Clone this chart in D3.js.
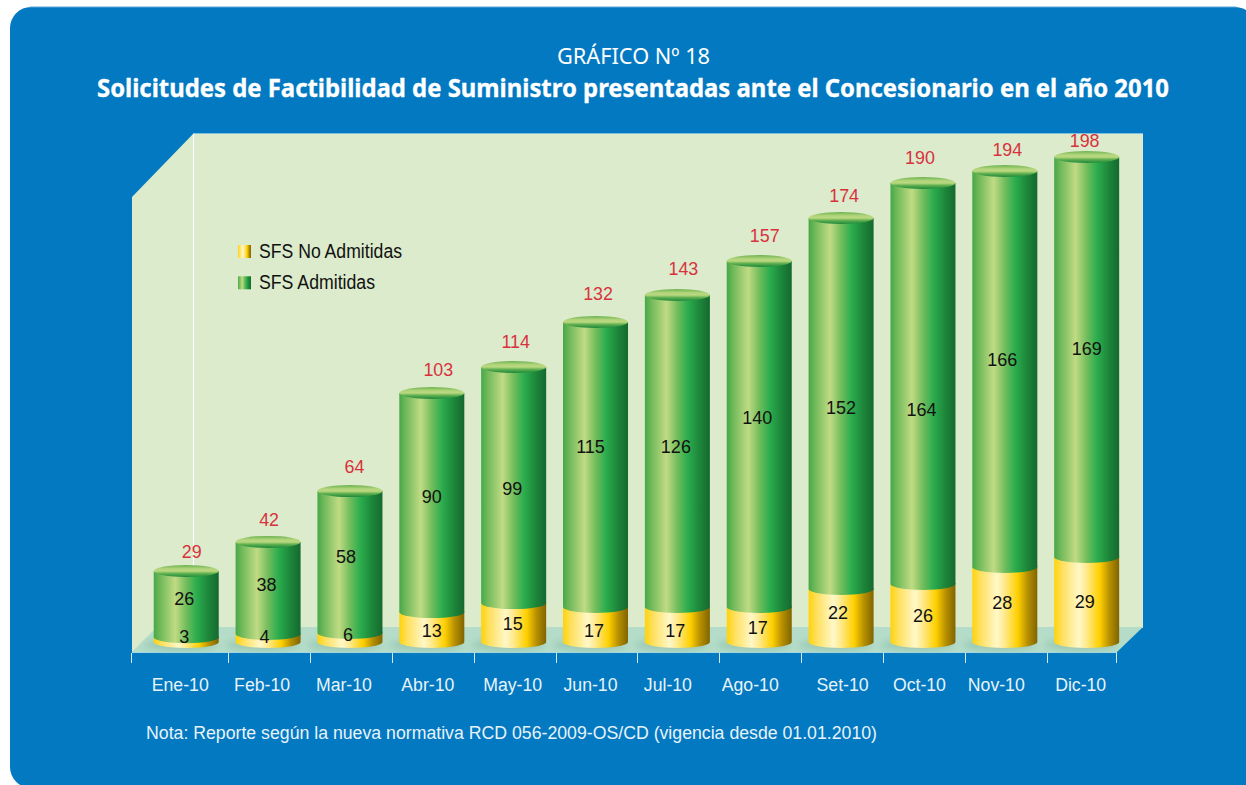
<!DOCTYPE html>
<html>
<head>
<meta charset="utf-8">
<script src="https://cdn.jsdelivr.net/npm/d3@7"></script>
<style>
html,body{margin:0;padding:0;background:#fff;overflow:hidden}
svg{display:block}
</style>
</head>
<body>
<svg id="c" width="1246" height="785"></svg>
<script>
// ---- data ----
const months = ["Ene-10","Feb-10","Mar-10","Abr-10","May-10","Jun-10","Jul-10","Ago-10","Set-10","Oct-10","Nov-10","Dic-10"];
const noAdmitidas = [3,4,6,13,15,17,17,17,22,26,28,29];
const admitidas = [26,38,58,90,99,115,126,140,152,164,166,169];
const totales = [29,42,64,103,114,132,143,157,174,190,194,198];
// heights as actually drawn in the picture (they differ slightly from the printed labels)
const alturaNoAdm = [2,3.3,3.7,12.3,16,14.4,14.4,14.4,21.8,23.9,30.9,35];
const alturaTotal = [29.2,41.2,62.1,102.5,113.2,131.7,142.8,156.8,174.5,188.9,193.8,199.6];
const series = ["SFS No Admitidas","SFS Admitidas"];
const titulo1 = "GRÁFICO Nº 18";
const titulo2 = "Solicitudes de Factibilidad de Suministro presentadas ante el Concesionario en el año 2010";
const nota = "Nota: Reporte según la nueva normativa RCD 056-2009-OS/CD (vigencia desde 01.01.2010)";

// ---- hand-placed label offsets (layout, px) ----
const totalDx = [5.5,1,4.5,6.5,2,2.5,6,5.5,3,-3,2.5,-2];
const totalDy = [-20,-22,-25,-23,-25,-28,-27,-25,-22,-25,-22,-16];
const admDx = [-2,-1.5,-4,0,-1.5,-5,-1.5,-2,0,-1.5,-2.5,0];
const admDy = [-6,-4,-6,-6.5,3,-18.5,-5,-17,3.5,25.5,-10,-9];
const noDx = [-2,-3.5,-2,0,-1,-1.5,-2,-1.5,-3,0,-2.5,-2];
const noDy = [-3.5,-2,-3.5,3,0.5,5.5,5.5,2.5,-3.5,2,-2.5,1.5];
const tickDx = [-6,-6,-6,-4,-1,-5,-9.5,-9,1.5,-3.5,-8.5,-6];

const svg = d3.select("#c");
const font = "'Liberation Sans',Arial,sans-serif";
const titleFont = "'Noto Sans','Open Sans',sans-serif";
const W = 65, RX = W/2, RY = 6;

const x = d3.scaleBand().domain(months).range([145.3,1127.6]).paddingInner(0.206).paddingOuter(0.103);
const y = d3.scaleLinear().domain([0,200]).range([642,156]);

// horizontally condense text the way the original artwork does
function squeeze(sel, ratio){
  sel.each(function(){
    const n = this.getComputedTextLength();
    d3.select(this).attr("textLength",n*ratio).attr("lengthAdjust","spacingAndGlyphs");
  });
}

// ---- gradients ----
const defs = svg.append("defs");
function grad(id, stops, vertical){
  const g = defs.append("linearGradient").attr("id",id).attr("x1",0).attr("y1",0)
    .attr("x2",vertical?0:1).attr("y2",vertical?1:0);
  stops.forEach(s=>g.append("stop").attr("offset",s[0]).attr("stop-color",s[1]));
}
grad("gGreen",[[0,"#45a848"],[0.1,"#71b95a"],[0.33,"#c0db84"],[0.5,"#72bd5c"],[0.66,"#2bad4e"],[0.85,"#1c8439"],[1,"#15692f"]]);
grad("gYellow",[[0,"#ffd308"],[0.12,"#ffdf5c"],[0.38,"#fff8c8"],[0.5,"#ffe98a"],[0.7,"#ffd000"],[0.85,"#b79000"],[1,"#806400"]]);
grad("gTop",[[0,"#6ab24e"],[0.3,"#afd37a"],[0.5,"#bcd980"],[0.72,"#5cae4e"],[1,"#1c873c"]],true);
defs.append("filter").attr("id","blur").attr("x","-30%").attr("y","-60%").attr("width","160%").attr("height","220%")
  .append("feGaussianBlur").attr("stdDeviation",3);

// ---- panel ----
svg.append("rect").attr("x",10).attr("y",7).attr("width",1246).attr("height",781).attr("rx",21).attr("fill","#0279c1");
svg.append("line").attr("x1",30).attr("x2",1236).attr("y1",7).attr("y2",7).attr("stroke","#5aa8d8").attr("stroke-width",1);

// ---- 3D box ----
const line = d3.line();
svg.append("path").attr("d",line([[132,197],[193,134],[1143,134],[1143,628],[132,652]])+"Z").attr("fill","#dbebcb");
svg.append("path").attr("d",line([[132,652],[157,627],[1143,627],[1117,652]])+"Z").attr("fill","#b4dcc9");
svg.append("line").attr("x1",193.5).attr("x2",193.5).attr("y1",134).attr("y2",627).attr("stroke","#ffffff").attr("stroke-width",1.2);
svg.append("line").attr("x1",193).attr("x2",1143).attr("y1",133.5).attr("y2",133.5).attr("stroke","#7fbfe0").attr("stroke-width",1);
svg.append("line").attr("x1",132).attr("x2",1117).attr("y1",652.5).attr("y2",652.5).attr("stroke","#a5d8e4").attr("stroke-width",1);

// ---- axis ticks & labels ----
const tickPos = [131].concat(months.slice(1).map(m=>x(m)-x.step()*x.paddingInner()/2+1),[1116]);
svg.append("g").selectAll("line").data(tickPos).join("line")
  .attr("x1",d=>Math.round(d)+.5).attr("x2",d=>Math.round(d)+.5).attr("y1",653).attr("y2",663)
  .attr("stroke","#d5e9f5").attr("stroke-width",1);
svg.append("g").selectAll("text").data(months).join("text")
  .attr("x",(d,i)=>x(d)+W/2+tickDx[i]).attr("y",690.5)
  .attr("text-anchor","middle").attr("font-family",font).attr("font-size",18.8).attr("fill","#e8f3fa").text(d=>d)
  .call(squeeze,0.94);

// ---- cylinders ----
const bars = svg.append("g").selectAll("g").data(months).join("g");
function cyl(x0,yb,yt){
  return `M${x0},${yb}A${RX},${RY} 0 0 0 ${x0+W},${yb}L${x0+W},${yt}L${x0},${yt}Z`;
}
bars.append("ellipse").attr("cx",d=>x(d)+W/2-6).attr("cy",y(0)+3).attr("rx",RX+4).attr("ry",RY)
  .attr("fill","#7fb59f").attr("opacity",.45).attr("filter","url(#blur)");
bars.append("path").attr("d",(d,i)=>cyl(x(d),y(0),y(alturaNoAdm[i])-1)).attr("fill","url(#gYellow)");
bars.append("path").attr("d",(d,i)=>cyl(x(d),y(alturaNoAdm[i]),y(alturaTotal[i]))).attr("fill","url(#gGreen)");
bars.append("ellipse").attr("cx",d=>x(d)+W/2).attr("cy",(d,i)=>y(alturaTotal[i])).attr("rx",RX).attr("ry",RY).attr("fill","url(#gTop)");

// ---- value labels ----
function labels(vals, dx, ypos, size, color){
  svg.append("g").selectAll("text").data(vals).join("text")
    .attr("x",(d,i)=>x(months[i])+W/2+dx[i]).attr("y",(d,i)=>ypos(i)).attr("dy",".35em")
    .attr("text-anchor","middle").attr("font-family",font).attr("font-size",size).attr("fill",color).text(d=>d)
    .call(squeeze,0.96);
}
labels(noAdmitidas,noDx,i=>y(alturaNoAdm[i]/2)+noDy[i],18.8,"#111");
labels(admitidas,admDx,i=>y((alturaNoAdm[i]+alturaTotal[i])/2)+admDy[i],18.8,"#111");
labels(totales,totalDx,i=>y(alturaTotal[i])+totalDy[i],18.6,"#d8323f");

// ---- legend ----
const leg = svg.append("g").selectAll("g").data(series).join("g").attr("transform",(d,i)=>`translate(238,${245+i*31.3})`);
leg.append("rect").attr("width",13).attr("height",13).attr("fill",(d,i)=>i?"url(#gGreen)":"url(#gYellow)");
leg.append("text").attr("x",21).attr("y",12.5).attr("font-family",font).attr("font-size",19.5).attr("fill","#111")
  .attr("textLength",(d,i)=>i?116:143).attr("lengthAdjust","spacingAndGlyphs").text(d=>d);

// ---- titles & note ----
svg.append("text").attr("x",633.5).attr("y",64).attr("text-anchor","middle").attr("font-family",titleFont)
  .attr("font-size",22).attr("fill","#fff").attr("textLength",153).attr("lengthAdjust","spacingAndGlyphs").text(titulo1);
svg.append("text").attr("x",633).attr("y",97).attr("text-anchor","middle").attr("font-family",titleFont).attr("font-weight",700)
  .attr("font-size",25.5).attr("fill","#fff").attr("stroke","#fff").attr("stroke-width",.35)
  .attr("textLength",1072).attr("lengthAdjust","spacingAndGlyphs").text(titulo2);
svg.append("text").attr("x",146).attr("y",738.5).attr("font-family",font).attr("font-size",18.3)
  .attr("fill","#e8f3fa").attr("textLength",731).attr("lengthAdjust","spacingAndGlyphs").text(nota);
</script>
</body>
</html>
